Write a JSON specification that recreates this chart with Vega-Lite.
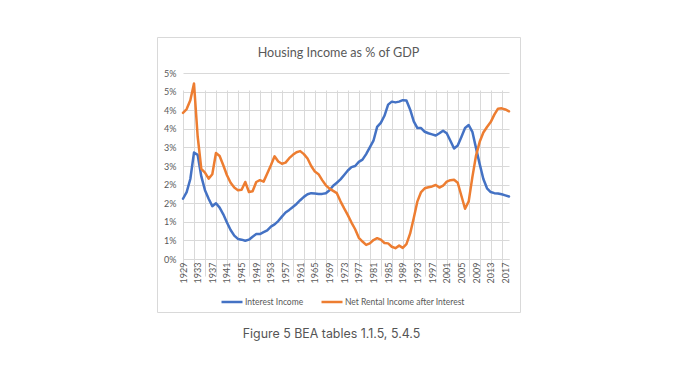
{
  "$schema": "https://vega.github.io/schema/vega-lite/v6.json",
  "width": 363,
  "height": 275,
  "autosize": {"type": "none"},
  "padding": {"left": 157, "top": 37, "right": 162, "bottom": 69},
  "background": "white",
  "title": {"text": "Housing Income as % of GDP", "anchor": "middle", "frame": "group", "baseline": "alphabetic", "offset": 0, "dy": 33, "fontSize": 12.6, "font": "Lato", "fontWeight": "normal", "color": "#595959"},
  "data": {"values": [
    {"year": 1929, "interest": 1.62, "rental": 3.93},
    {"year": 1930, "interest": 1.80, "rental": 4.03},
    {"year": 1931, "interest": 2.15, "rental": 4.27},
    {"year": 1932, "interest": 2.86, "rental": 4.72},
    {"year": 1933, "interest": 2.80, "rental": 3.30},
    {"year": 1934, "interest": 2.22, "rental": 2.42},
    {"year": 1935, "interest": 1.85, "rental": 2.32},
    {"year": 1936, "interest": 1.62, "rental": 2.16},
    {"year": 1937, "interest": 1.42, "rental": 2.28},
    {"year": 1938, "interest": 1.50, "rental": 2.85},
    {"year": 1939, "interest": 1.38, "rental": 2.77},
    {"year": 1940, "interest": 1.20, "rental": 2.52},
    {"year": 1941, "interest": 0.98, "rental": 2.25},
    {"year": 1942, "interest": 0.78, "rental": 2.05},
    {"year": 1943, "interest": 0.63, "rental": 1.92},
    {"year": 1944, "interest": 0.54, "rental": 1.85},
    {"year": 1945, "interest": 0.52, "rental": 1.86},
    {"year": 1946, "interest": 0.49, "rental": 2.07},
    {"year": 1947, "interest": 0.52, "rental": 1.80},
    {"year": 1948, "interest": 0.60, "rental": 1.82},
    {"year": 1949, "interest": 0.67, "rental": 2.07},
    {"year": 1950, "interest": 0.67, "rental": 2.12},
    {"year": 1951, "interest": 0.72, "rental": 2.08},
    {"year": 1952, "interest": 0.77, "rental": 2.30},
    {"year": 1953, "interest": 0.87, "rental": 2.52},
    {"year": 1954, "interest": 0.93, "rental": 2.76},
    {"year": 1955, "interest": 1.02, "rental": 2.62},
    {"year": 1956, "interest": 1.14, "rental": 2.56},
    {"year": 1957, "interest": 1.25, "rental": 2.59},
    {"year": 1958, "interest": 1.32, "rental": 2.71},
    {"year": 1959, "interest": 1.40, "rental": 2.80},
    {"year": 1960, "interest": 1.48, "rental": 2.87},
    {"year": 1961, "interest": 1.58, "rental": 2.90},
    {"year": 1962, "interest": 1.67, "rental": 2.82},
    {"year": 1963, "interest": 1.74, "rental": 2.70},
    {"year": 1964, "interest": 1.77, "rental": 2.50},
    {"year": 1965, "interest": 1.76, "rental": 2.35},
    {"year": 1966, "interest": 1.75, "rental": 2.28},
    {"year": 1967, "interest": 1.75, "rental": 2.12},
    {"year": 1968, "interest": 1.77, "rental": 1.98},
    {"year": 1969, "interest": 1.85, "rental": 1.89},
    {"year": 1970, "interest": 1.97, "rental": 1.83},
    {"year": 1971, "interest": 2.05, "rental": 1.77},
    {"year": 1972, "interest": 2.14, "rental": 1.55},
    {"year": 1973, "interest": 2.26, "rental": 1.36},
    {"year": 1974, "interest": 2.38, "rental": 1.18},
    {"year": 1975, "interest": 2.47, "rental": 0.98},
    {"year": 1976, "interest": 2.50, "rental": 0.80},
    {"year": 1977, "interest": 2.61, "rental": 0.57},
    {"year": 1978, "interest": 2.67, "rental": 0.47},
    {"year": 1979, "interest": 2.82, "rental": 0.38},
    {"year": 1980, "interest": 3.00, "rental": 0.42},
    {"year": 1981, "interest": 3.18, "rental": 0.51},
    {"year": 1982, "interest": 3.55, "rental": 0.56},
    {"year": 1983, "interest": 3.66, "rental": 0.52},
    {"year": 1984, "interest": 3.85, "rental": 0.43},
    {"year": 1985, "interest": 4.15, "rental": 0.42},
    {"year": 1986, "interest": 4.23, "rental": 0.33},
    {"year": 1987, "interest": 4.21, "rental": 0.29},
    {"year": 1988, "interest": 4.23, "rental": 0.36},
    {"year": 1989, "interest": 4.27, "rental": 0.30},
    {"year": 1990, "interest": 4.26, "rental": 0.40},
    {"year": 1991, "interest": 4.02, "rental": 0.68},
    {"year": 1992, "interest": 3.70, "rental": 1.10},
    {"year": 1993, "interest": 3.52, "rental": 1.55},
    {"year": 1994, "interest": 3.52, "rental": 1.80},
    {"year": 1995, "interest": 3.42, "rental": 1.90},
    {"year": 1996, "interest": 3.38, "rental": 1.93},
    {"year": 1997, "interest": 3.35, "rental": 1.95},
    {"year": 1998, "interest": 3.32, "rental": 1.99},
    {"year": 1999, "interest": 3.38, "rental": 1.92},
    {"year": 2000, "interest": 3.45, "rental": 1.97},
    {"year": 2001, "interest": 3.38, "rental": 2.08},
    {"year": 2002, "interest": 3.18, "rental": 2.12},
    {"year": 2003, "interest": 2.97, "rental": 2.13},
    {"year": 2004, "interest": 3.05, "rental": 2.05},
    {"year": 2005, "interest": 3.28, "rental": 1.70},
    {"year": 2006, "interest": 3.52, "rental": 1.35},
    {"year": 2007, "interest": 3.60, "rental": 1.55},
    {"year": 2008, "interest": 3.42, "rental": 2.20},
    {"year": 2009, "interest": 2.98, "rental": 2.78},
    {"year": 2010, "interest": 2.55, "rental": 3.15},
    {"year": 2011, "interest": 2.15, "rental": 3.40},
    {"year": 2012, "interest": 1.90, "rental": 3.55},
    {"year": 2013, "interest": 1.80, "rental": 3.68},
    {"year": 2014, "interest": 1.77, "rental": 3.88},
    {"year": 2015, "interest": 1.76, "rental": 4.04},
    {"year": 2016, "interest": 1.74, "rental": 4.05},
    {"year": 2017, "interest": 1.71, "rental": 4.02},
    {"year": 2018, "interest": 1.68, "rental": 3.97}
  ]},
  "transform": [{"fold": ["interest", "rental"], "as": ["series", "value"]}],
  "mark": {"type": "line", "strokeWidth": 2.5, "strokeJoin": "round", "strokeCap": "round"},
  "encoding": {
    "x": {
      "field": "year", "type": "quantitative",
      "scale": {"domain": [1929, 2018], "range": [26, 352], "nice": false, "zero": false},
      "axis": {
        "values": [1929,1932,1933,1935,1937,1938,1941,1944,1945,1947,1949,1950,1953,1956,1957,1959,1961,1962,1965,1968,1969,1971,1973,1974,1977,1980,1981,1983,1985,1986,1989,1992,1993,1995,1997,1998,2001,2004,2005,2007,2009,2010,2013,2016,2017],
        "title": "Figure 5 BEA tables 1.1.5, 5.4.5",
        "titleX": 174, "titleY": 78, "titleAlign": "center", "titleBaseline": "alphabetic",
        "titleFont": "Inter", "titleFontSize": 12.4, "titleFontWeight": "normal", "titleColor": "#555555",
        "offset": -53,
        "labelAngle": -90, "labelAlign": "right", "labelBaseline": "middle", "labelPadding": 3,
        "labelFont": "Lato", "labelFontSize": 9, "labelColor": "#595959",
        "labelOverlap": false, "labelBound": false, "labelFlush": false,
        "labelExpr": "(datum.value - 1929) % 4 === 0 ? '' + datum.value : ''",
        "ticks": false,
        "grid": true, "gridColor": "#d9d9d9", "gridWidth": 1,
        "gridOpacity": {"condition": {"test": "(datum.value - 1929) % 3 === 0", "value": 1}, "value": 0},
        "domainColor": "#d9d9d9", "domainWidth": 1
      }
    },
    "y": {
      "field": "value", "type": "quantitative",
      "scale": {"domain": [0, 5], "range": [222, 36], "nice": false, "zero": true},
      "axis": {
        "values": [0, 0.5, 1, 1.5, 2, 2.5, 3, 3.5, 4, 4.5, 5],
        "labelExpr": "ceil(datum.value) + '%'",
        "title": null, "offset": -26, "domain": false, "ticks": false,
        "labelPadding": 7, "labelFont": "Lato", "labelFontSize": 9, "labelColor": "#595959",
        "grid": true, "gridColor": "#d9d9d9", "gridWidth": 1
      }
    },
    "color": {
      "field": "series", "type": "nominal",
      "scale": {"domain": ["interest", "rental"], "range": ["#4472C4", "#ED7D31"]},
      "legend": {
        "orient": "none", "legendX": 63, "legendY": 253, "direction": "horizontal",
        "title": null, "symbolType": "stroke", "symbolSize": 441, "symbolStrokeWidth": 2.5,
        "labelFont": "Lato", "labelFontSize": 8.5, "labelColor": "#595959", "labelOffset": 1,
        "columnPadding": 12, "labelLimit": 300,
        "labelExpr": "datum.label == 'interest' ? 'Interest Income' : 'Net Rental Income after Interest'"
      }
    }
  },
  "config": {"view": {"stroke": "#d9d9d9", "strokeWidth": 1}, "font": "Lato"}
}
